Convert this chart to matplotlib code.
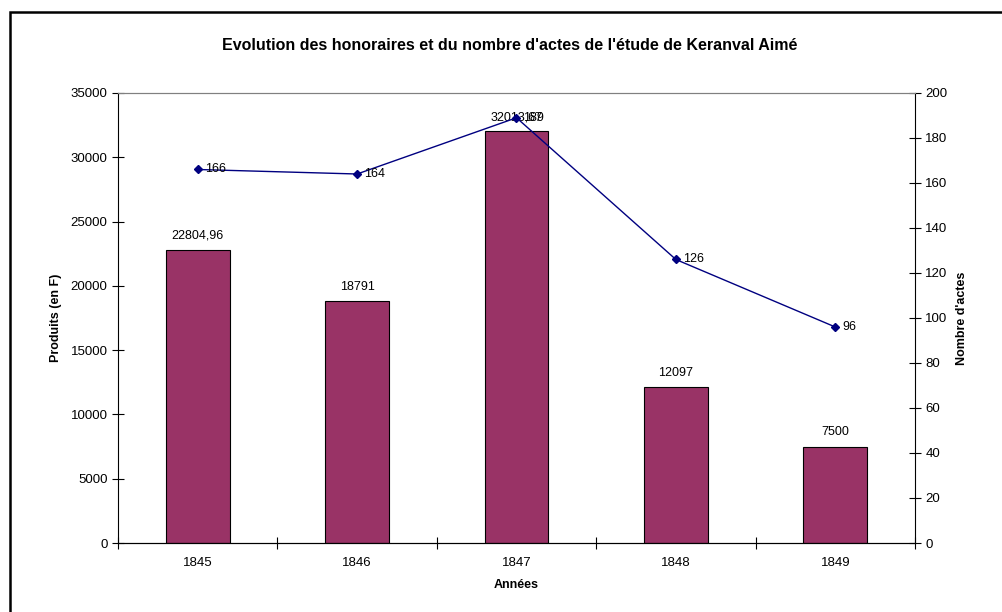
import matplotlib.pyplot as plt
from matplotlib.patches import Rectangle

plt.rcParams['font.family'] = ['Liberation Sans', 'DejaVu Sans']

annees = ['1845', '1846', '1847', '1848', '1849']
produits = [22804.96, 18791, 32013.67, 12097, 7500]
produits_lbl = ['22804,96', '18791', '32013,67', '12097', '7500']
actes = [166, 164, 189, 126, 96]

fig = plt.figure(figsize=(10.02, 6.12), dpi=100)
ax = fig.add_axes([118/1002, 1-543/612, 797/1002, 450/612])
ax2 = ax.twinx()

x = list(range(len(annees)))
ax.bar(x, produits, width=0.4, color='#993366', edgecolor='black', linewidth=0.8, zorder=2)
for xi, v, t in zip(x, produits, produits_lbl):
    ax.annotate(t, (xi, v), xytext=(0, 6), textcoords='offset points',
                ha='center', va='bottom', fontsize=9)

ax2.plot(x, actes, color='#000080', marker='D', markersize=4, linewidth=1, zorder=3)
for xi, v in zip(x, actes):
    ax2.annotate(str(v), (xi, v), xytext=(5, 0), textcoords='offset points',
                 ha='left', va='center', fontsize=9)

ax.set_xlim(-0.5, 4.5)
ax.set_ylim(0, 35000)
ax.set_yticks(range(0, 35001, 5000))
ax2.set_ylim(0, 200)
ax2.set_yticks(range(0, 201, 20))

ax.set_xticks(x)
ax.set_xticklabels(annees, fontsize=9.5)
ax.set_xticks([-0.5, 0.5, 1.5, 2.5, 3.5, 4.5], minor=True)
ax.tick_params(axis='x', which='major', length=0, pad=10)
ax.tick_params(axis='x', which='minor', direction='inout', length=8, width=0.8)
ax.tick_params(axis='y', direction='inout', length=8, width=0.8, labelsize=9.5)
ax2.tick_params(axis='y', direction='inout', length=8, width=0.8, labelsize=9.5)

ax.spines['top'].set_color('#808080')
ax2.spines['top'].set_color('#808080')
ax2.spines['left'].set_visible(False)
ax.spines['right'].set_visible(False)

ax.set_xlabel('Années', fontsize=9, fontweight='bold', labelpad=7)
ax.set_ylabel('Produits (en F)', fontsize=9, fontweight='bold', labelpad=6)
ax2.set_ylabel("Nombre d'actes", fontsize=9, fontweight='bold', labelpad=6)

fig.text(510/1002, 1-45/612, "Evolution des honoraires et du nombre d'actes de l'étude de Keranval Aimé",
         ha='center', va='center', fontsize=11.5, fontweight='bold')

fig.patches.append(Rectangle((10/1002, -0.1), 1.2, 1.1 - 12/612, transform=fig.transFigure,
                             fill=False, edgecolor='black', linewidth=1.8))

fig.savefig('out.png', dpi=100)
